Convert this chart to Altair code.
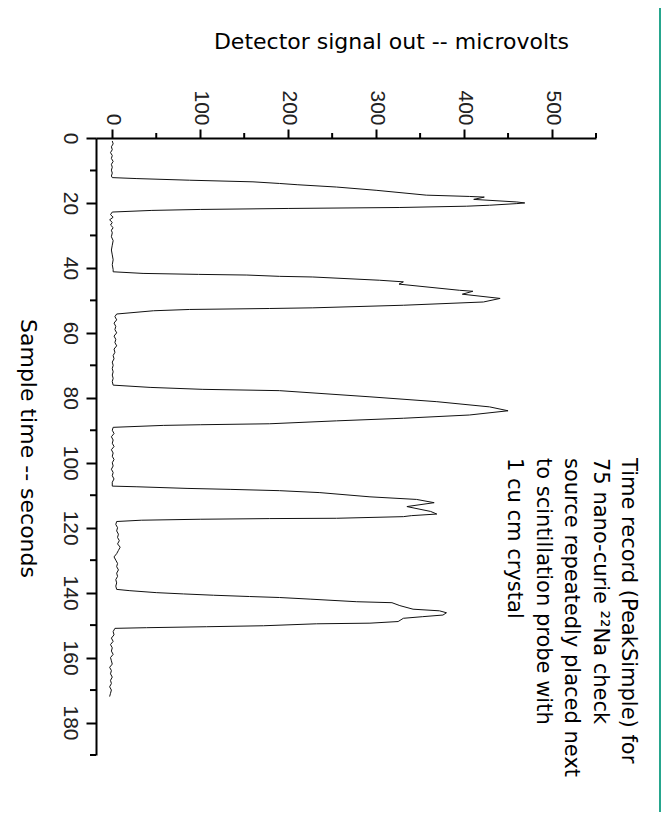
import altair as alt
import pandas as pd

# ---- data (time in s, signal in microvolts) ----
time_s = [
    0.9, 1.8, 2.7, 3.6, 4.5, 5.4, 6.3, 7.2, 8.1, 9.0, 9.9, 10.8, 11.7, 12.2,
    12.5, 13.0, 13.5, 14.0, 14.4, 15.1, 16.1, 17.6, 18.0, 18.2, 18.9, 19.7, 20.0, 20.2, 20.7, 21.0, 21.4, 21.7, 22.0, 22.3,
    22.8, 23.6, 24.4, 25.2, 26.0, 26.8, 27.6, 28.4, 29.2, 30.4, 31.6, 33.0, 34.5, 36.0, 37.5, 39.0, 40.5, 41.2,
    41.7, 42.0, 42.2, 42.6, 42.8, 43.8, 44.3, 45.0, 46.9, 47.2, 48.1, 49.4, 50.5, 51.5, 52.3, 52.5, 52.8, 53.2,
    54.2, 55, 56, 57, 58, 59, 60, 61, 62, 63, 64, 65, 66, 67, 68, 69, 70, 71, 72, 73, 74, 75, 76.1,
    76.8, 77.4, 77.8, 79.7, 81.2, 82.8, 84.0, 85.3, 86.3, 87.1, 88.0, 88.3, 88.5,
    89.1, 90, 91, 92, 93, 94, 95, 96, 97, 98, 99, 100, 101, 102, 103, 104, 105, 106, 107.2,
    107.4, 107.9, 108.2, 108.6, 109.2, 110.5, 111.3, 112.3, 113.5, 115.0, 115.8, 116.3, 116.6, 117.1, 117.2, 117.4, 117.7,
    118.1, 119, 120, 121, 122, 123, 124, 125, 126, 127, 128, 129, 130, 131, 132, 133, 134, 135, 136, 137, 138, 139.0,
    139.4, 140.0, 140.4, 140.8, 141.2, 141.5, 142.0, 142.8, 143.1, 144.0, 145.1, 145.6, 146.2, 146.9, 147.4, 147.9, 148.9, 149.4, 149.6, 150.2, 150.5, 150.8,
    151.0, 152, 153, 154, 155, 156, 157, 158, 159, 160, 161, 162, 163, 164, 165, 166, 167, 168, 169, 170, 171, 172,
]
signal_uv = [
    0, 1, -1, 0, -2, 0, -1, 1, -1, 0, -1, 0, -1, 0,
    28, 88, 160, 190, 211, 255, 300, 357, 406, 423, 411, 460, 469, 460, 429, 403, 327, 200, 100, 45,
    0, -2, 1, -3, 0, -2, 1, -1, 0, -1, 1, 0, -1, 0, 1, 0, 1, 1,
    35, 98, 153, 190, 228, 304, 331, 326, 395, 410, 398, 441, 422, 331, 228, 179, 88, 47,
    5, 3, 5, 2, 4, 3, 5, 2, 4, 3, 5, 2, 3, 1, 2, 0, 1, 0, 1, 0, 1, 0, 1,
    43, 103, 190, 293, 369, 429, 450, 406, 331, 255, 179, 100, 58,
    1, 0, 2, -1, 1, 0, 2, -1, 1, 0, 2, 0, 1, -1, 1, 0, 2, 0, 0,
    28, 85, 134, 190, 236, 293, 346, 366, 335, 362, 369, 340, 331, 255, 179, 100, 33,
    5, 4, 6, 5, 7, 6, 8, 6, 9, 7, 5, 2, 4, 6, 5, 7, 5, 6, 4, 5, 4, 5,
    20, 50, 81, 115, 156, 190, 225, 278, 318, 327, 342, 372, 380, 376, 353, 331, 325, 293, 232, 172, 107, 39,
    3, 1, 2, -1, 1, -2, 0, -1, 1, -2, -1, 0, -3, -1, -2, 0, -2, -1, -3, -1, -2, -3,
]

signal_major = [0, 100, 200, 300, 400, 500]
signal_minor = [50, 150, 250, 350, 450, 550]
time_major = [0, 20, 40, 60, 80, 100, 120, 140, 160, 180]
time_minor = [10, 30, 50, 70, 90, 110, 130, 150, 170, 190]

signal_title = "Detector signal out -- microvolts"
time_title = "Sample time -- seconds"
note_lines = [
    "Time record (PeakSimple) for",
    "75 nano-curie \u00b2\u00b2Na check",
    "source repeatedly placed next",
    "to scintillation probe with",
    "1 cu cm crystal",
]

trace = pd.DataFrame({"t": time_s, "s": signal_uv, "i": list(range(len(time_s)))})

W, H = 500, 617
TITLE_FONT = "DejaVu Sans"
TICK_FONT = "Liberation Sans Narrow, Liberation Sans, Arial"

xscale = alt.Scale(domain=[-18.5, 550], nice=False, zero=False)
yscale = alt.Scale(domain=[0, 190], reverse=True, nice=False, zero=False)

x_axis = alt.Axis(
    orient="top", values=signal_major, title=signal_title,
    labelAngle=90, labelAlign="right", labelBaseline="middle",
    labelPadding=4, tickSize=9, labelOverlap=False, labelFlush=False,
    titleX=295, titleY=-97, titleAngle=0, titleAlign="center", titleBaseline="middle",
)
y_axis = alt.Axis(
    orient="left", values=time_major, title=time_title,
    labelAngle=90, labelAlign="center", labelBaseline="top",
    labelPadding=6, tickSize=10, labelOverlap=False, labelFlush=False,
    titleX=-69, titleY=310, titleAngle=90, titleAlign="center", titleBaseline="middle",
)

line = alt.Chart(trace).mark_line(color="#111", strokeWidth=1).encode(
    x=alt.X("s:Q", scale=xscale, axis=x_axis),
    y=alt.Y("t:Q", scale=yscale, axis=y_axis),
    order="i:Q",
)

top_minor = alt.Chart(pd.DataFrame({"s": signal_minor})).mark_rule(
    color="black", strokeWidth=2
).encode(x=alt.X("s:Q", scale=xscale), y=alt.value(0), y2=alt.value(-5))

left_minor = alt.Chart(pd.DataFrame({"t": time_minor})).mark_rule(
    color="black", strokeWidth=2
).encode(y=alt.Y("t:Q", scale=yscale), x=alt.value(0), x2=alt.value(-6))

frame = alt.Chart(pd.DataFrame({"k": [0]})).mark_rect(color="#26a68d").encode(
    x=alt.value(563), x2=alt.value(590), y=alt.value(-140), y2=alt.value(700)
)

note = alt.Chart(pd.DataFrame({"k": [0]})).mark_text(
    text=note_lines, angle=90, align="left", baseline="middle",
    font=TITLE_FONT, fontSize=21, lineHeight=28.5, color="black",
).encode(x=alt.value(532), y=alt.value(320))

chart = alt.layer(frame, line, top_minor, left_minor, note).properties(
    width=W, height=H,
    autosize=alt.AutoSizeParams(type="none"),
    padding={"left": 88, "top": 130, "right": 65, "bottom": 57},
    background="white",
).configure_view(stroke=None).configure_axis(
    domainColor="black", domainWidth=2, tickColor="black", tickWidth=2,
    grid=False, labelFont=TICK_FONT, labelFontSize=21, labelColor="#222",
    titleFont=TITLE_FONT, titleFontSize=22, titleFontWeight="normal", titleColor="black",
)

chart.save("out.html", embed_options={"renderer": "svg", "actions": False})
